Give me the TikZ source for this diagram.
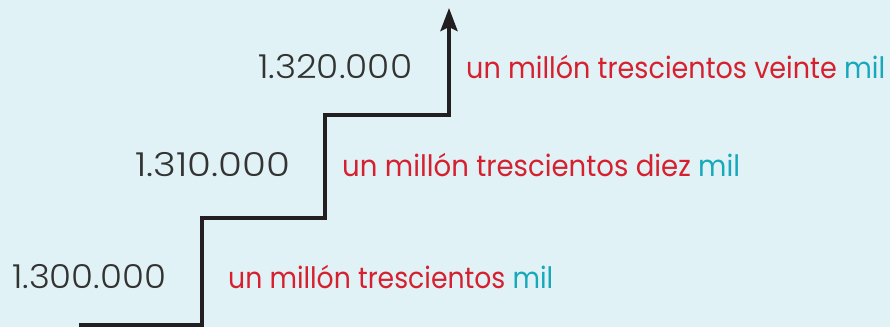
\documentclass[tikz,border=0pt]{standalone}
\usepackage{fontspec}
\usepackage{graphicx}
\setmainfont{Poppins}
\newfontfamily\numfont{Poppins Light}
\usetikzlibrary{arrows.meta}
\definecolor{bgcol}{HTML}{E0F2F5}
\definecolor{redtxt}{HTML}{D7202F}
\definecolor{cyantxt}{HTML}{17A9BB}
\definecolor{numcol}{HTML}{333333}
\definecolor{linecol}{HTML}{231F20}
\newcommand\fitto[2]{\setbox0=\hbox{#2}\pgfmathsetmacro\fitsc{#1/\wd0}\scalebox{\fitsc}[1]{\box0}}
\begin{document}
\begin{tikzpicture}[x=1pt,y=-1pt,
  numtxt/.style={anchor=base west,inner sep=0pt,text=numcol,font=\numfont\fontsize{33}{36}\selectfont},
  wordtxt/.style={anchor=base west,inner sep=0pt,text=redtxt,font=\fontsize{29.5}{34}\selectfont},
  stair/.style={draw=linecol,line width=4pt,line join=miter,-{Stealth[length=23pt,width=17pt,inset=4pt]}}]
\fill[bgcol] (0,0) rectangle (890,327);
\useasboundingbox (0,0) rectangle (890,327);
\coordinate (s0) at (79,325);
\coordinate (c1) at (202,325);
\coordinate (c2) at (202,218);
\coordinate (c3) at (325,218);
\coordinate (c4) at (325,115);
\coordinate (c5) at (449,115);
\coordinate (tip) at (449,8);
\draw[stair] (s0) -- (c1) -- (c2) -- (c3) -- (c4) -- (c5) -- (tip);
\node[numtxt] (n1) at (12,288) {\fitto{154}{1.300.000}};
\node[numtxt] (n2) at (135,176) {\fitto{155}{1.310.000}};
\node[numtxt] (n3) at (258,78) {\fitto{154}{1.320.000}};
\node[wordtxt] (w1) at (228,288) {\fitto{325}{un millón trescientos \textcolor{cyantxt}{mil}}};
\node[wordtxt] (w2) at (342,176) {\fitto{398}{un millón trescientos diez \textcolor{cyantxt}{mil}}};
\node[wordtxt] (w3) at (466,78) {\fitto{419}{un millón trescientos veinte \textcolor{cyantxt}{mil}}};
\end{tikzpicture}
\end{document}
